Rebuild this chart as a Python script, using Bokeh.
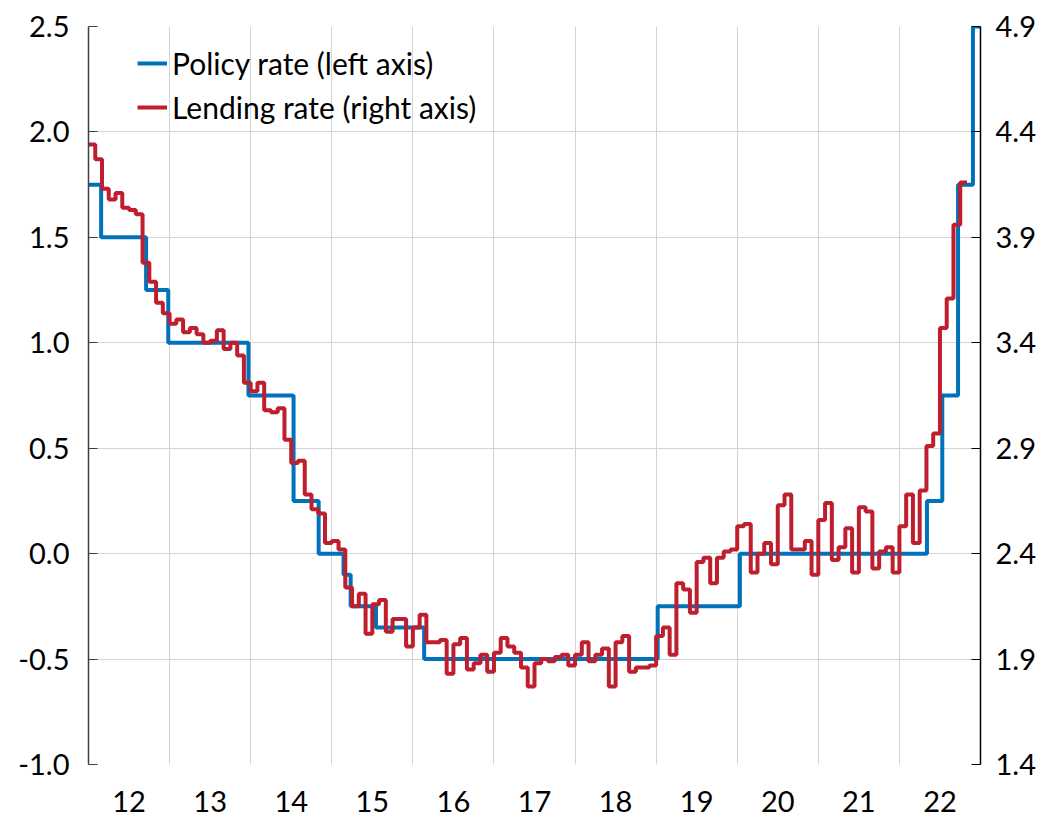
import pandas as pd
from bokeh.plotting import figure
from bokeh.models import (Range1d, LinearAxis, FixedTicker, NumeralTickFormatter,
                          Legend, LegendItem)
from bokeh.embed import file_html
from bokeh.resources import INLINE

# ---------------- data ----------------
policy_dates = ["2012-01-01", "2012-02-27", "2012-09-17", "2012-12-26", "2013-12-22",
                "2014-07-13", "2014-11-03", "2015-02-23", "2015-03-27", "2015-07-19",
                "2016-02-21", "2019-01-08", "2020-01-13", "2022-05-05", "2022-07-13",
                "2022-09-22", "2022-11-28", "2022-12-31"]
policy_rate = [1.75, 1.50, 1.25, 1.00, 0.75, 0.25, 0.00, -0.10, -0.25, -0.35,
               -0.50, -0.25, 0.00, 0.25, 0.75, 1.75, 2.50, 2.50]

lending_start = "2012-01"
lending_rate = [
    4.34, 4.27, 4.13, 4.08, 4.11, 4.04, 4.03, 4.01, 3.78, 3.69, 3.59, 3.54,   # 2012
    3.49, 3.51, 3.45, 3.47, 3.44, 3.40, 3.41, 3.46, 3.37, 3.40, 3.34, 3.21,   # 2013
    3.17, 3.21, 3.08, 3.07, 3.09, 2.94, 2.83, 2.84, 2.68, 2.61, 2.59, 2.45,   # 2014
    2.46, 2.42, 2.24, 2.15, 2.21, 2.02, 2.16, 2.18, 2.03, 2.09, 2.09, 1.96,   # 2015
    2.05, 2.11, 1.98, 1.98, 1.99, 1.83, 1.97, 2.00, 1.85, 1.88, 1.92, 1.84,   # 2016
    1.93, 2.00, 1.96, 1.93, 1.86, 1.77, 1.88, 1.90, 1.89, 1.91, 1.92, 1.87,   # 2017
    1.92, 1.98, 1.89, 1.92, 1.95, 1.77, 1.98, 2.01, 1.84, 1.86, 1.86, 1.87,   # 2018
    2.01, 2.05, 1.92, 2.26, 2.23, 2.12, 2.36, 2.38, 2.26, 2.38, 2.41, 2.42,   # 2019
    2.53, 2.54, 2.31, 2.40, 2.45, 2.35, 2.63, 2.68, 2.42, 2.42, 2.46, 2.30,   # 2020
    2.56, 2.64, 2.37, 2.43, 2.52, 2.31, 2.62, 2.60, 2.33, 2.41, 2.43, 2.31,   # 2021
    2.53, 2.68, 2.45, 2.70, 2.91, 2.97, 3.47, 3.61, 3.96, 4.16,               # 2022
]

year_labels = ["12", "13", "14", "15", "16", "17", "18", "19", "20", "21", "22"]
left_ticks = [-1.0, -0.5, 0.0, 0.5, 1.0, 1.5, 2.0, 2.5]
right_ticks = [1.4, 1.9, 2.4, 2.9, 3.4, 3.9, 4.4, 4.9]


def frac_year(ts):
    ts = pd.Timestamp(ts)
    days = 366 if ts.is_leap_year else 365
    return ts.year + (ts.dayofyear - 1) / days


px = [frac_year(d) for d in policy_dates]
months = pd.period_range(lending_start, periods=len(lending_rate) + 1, freq="M")
lx = [m.year + (m.month - 1) / 12 for m in months]
ly = lending_rate + [lending_rate[-1]]

FONT = "Lato"
BLUE = "#0072BC"
RED = "#BE1E2D"
GRID = "#D4D4D4"
TICK_FS = "29px"

p = figure(width=1046, height=817, output_backend="svg", toolbar_location=None,
           x_range=Range1d(2012, 2023), y_range=Range1d(-1.0, 2.5),
           min_border_left=88, min_border_right=66, min_border_top=26, min_border_bottom=53)
p.extra_y_ranges = {"right": Range1d(1.4, 4.9)}
p.outline_line_color = None
p.background_fill_color = "white"
p.border_fill_color = "white"

r_blue = p.step(px, policy_rate, mode="after", line_color=BLUE, line_width=4)
r_red = p.step(lx, ly, mode="after", line_color=RED, line_width=4, y_range_name="right")

# x axis
xa = p.xaxis[0]
xa.ticker = FixedTicker(ticks=[2012.5 + i for i in range(len(year_labels))])
xa.major_label_overrides = {2012.5 + i: lab for i, lab in enumerate(year_labels)}
xa.axis_line_color = None
xa.major_tick_line_color = None
xa.minor_tick_line_color = None
xa.major_label_standoff = 20
xa.major_label_text_font = FONT
xa.major_label_text_font_size = TICK_FS
xa.major_label_text_color = "black"

# left axis
ya = p.yaxis[0]
ya.ticker = FixedTicker(ticks=left_ticks)
ya.formatter = NumeralTickFormatter(format="0.0")
ya.axis_line_color = "#404040"
ya.axis_line_width = 1.5
ya.major_tick_line_color = "#404040"
ya.major_tick_in = 9
ya.major_tick_out = 0
ya.minor_tick_line_color = None
ya.major_label_standoff = 19
ya.major_label_text_font = FONT
ya.major_label_text_font_size = TICK_FS
ya.major_label_text_color = "black"

# right axis
ra = LinearAxis(y_range_name="right", ticker=FixedTicker(ticks=right_ticks),
                formatter=NumeralTickFormatter(format="0.0"))
ra.axis_line_color = "black"
ra.axis_line_width = 1.5
ra.major_tick_line_color = "black"
ra.major_tick_in = 9
ra.major_tick_out = 0
ra.minor_tick_line_color = None
ra.major_label_standoff = 15
ra.major_label_text_font = FONT
ra.major_label_text_font_size = TICK_FS
ra.major_label_text_color = "black"
p.add_layout(ra, "right")

# grids
p.xgrid.ticker = FixedTicker(ticks=list(range(2013, 2023)))
p.xgrid.grid_line_color = GRID
p.xgrid.grid_line_width = 1
p.ygrid.ticker = FixedTicker(ticks=left_ticks)
p.ygrid.grid_line_color = GRID
p.ygrid.grid_line_width = 1

legend = Legend(items=[LegendItem(label="Policy rate (left axis)", renderers=[r_blue]),
                       LegendItem(label="Lending rate (right axis)", renderers=[r_red])],
                location=(49, 639), margin=0, padding=0, spacing=8,
                glyph_width=30, glyph_height=36, label_height=36, label_standoff=5,
                label_text_font=FONT, label_text_font_size="30px",
                label_text_color="black",
                border_line_color=None, background_fill_alpha=0)
p.add_layout(legend, "center")

open("out.html", "w").write(file_html(p, INLINE))
